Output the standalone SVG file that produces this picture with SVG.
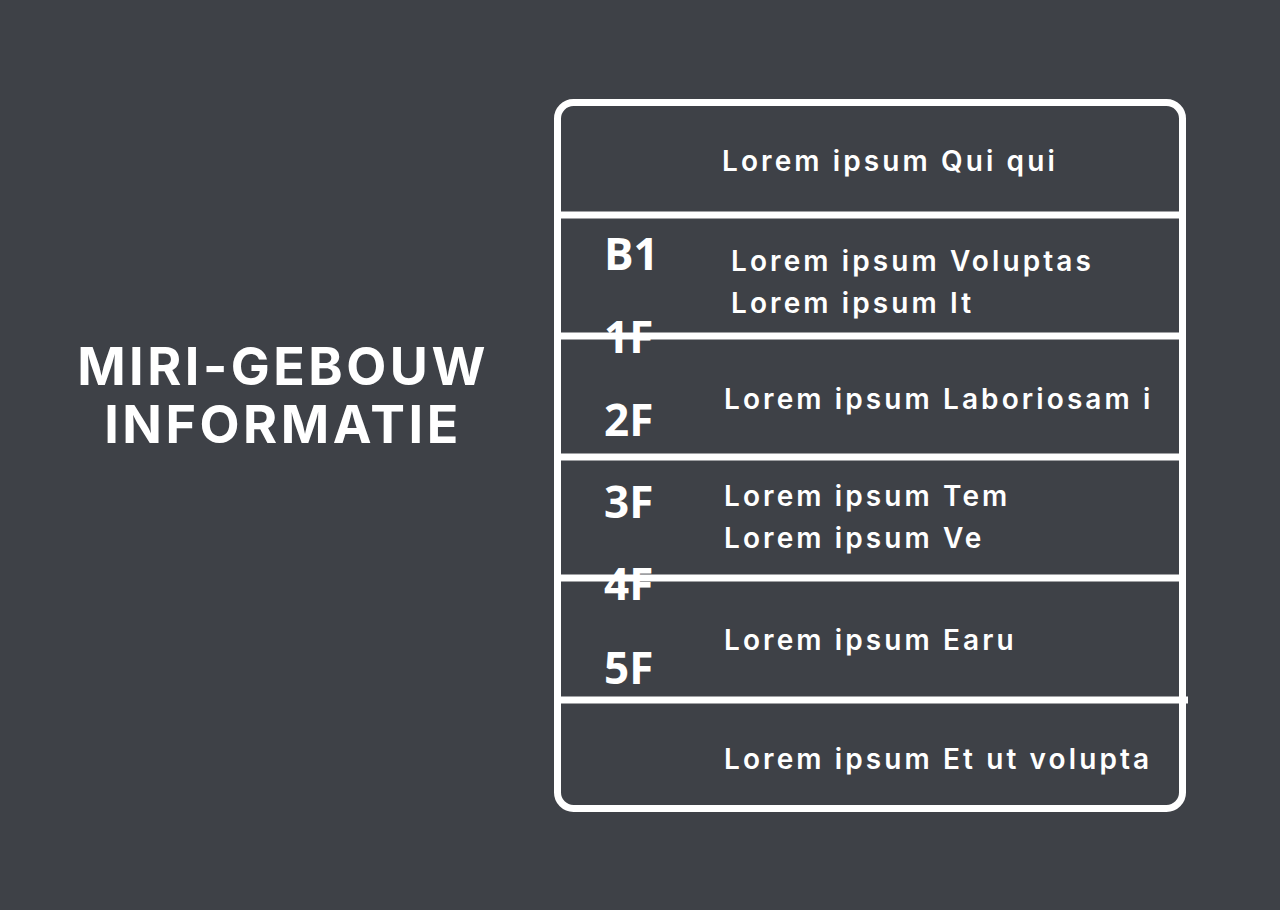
<svg xmlns="http://www.w3.org/2000/svg" width="1280" height="910" viewBox="0 0 1280 910">
<style>
.t{font-family:Inter,"Open Sans",sans-serif;font-weight:600;fill:#fff;font-size:28px;letter-spacing:3.1px}
.f{font-family:"Open Sans",Inter,sans-serif;font-weight:700;fill:#fff;font-size:44px}
.h{font-family:Inter,"Open Sans",sans-serif;font-weight:700;fill:#fff;font-size:52px;letter-spacing:3.5px}
.l{stroke:#fff;stroke-width:7;fill:none}
</style>
<rect width="1280" height="910" fill="#3e4147"/>
<g id="title"><text class="h" x="283" y="385" text-anchor="middle">MIRI-GEBOUW</text><text class="h" x="283" y="443" text-anchor="middle">INFORMATIE</text></g>
<g id="connectors">
<rect class="l" x="557.5" y="102.5" width="625" height="706" rx="16"/>
<line class="l" x1="557" y1="215" x2="1183" y2="215"/>
<line class="l" x1="557" y1="336" x2="1183" y2="336"/>
<line class="l" x1="557" y1="457" x2="1183" y2="457"/>
<line class="l" x1="557" y1="578" x2="1183" y2="578"/>
<line class="l" x1="557" y1="700" x2="1188" y2="700"/>
</g>
<g id="row0"><text class="t" x="722" y="171">Lorem ipsum Qui qui</text></g>
<g id="row1"><text class="f" x="604" y="270">B1</text><text class="t" x="731" y="271">Lorem ipsum Voluptas</text><text class="t" x="731" y="313">Lorem ipsum It</text></g>
<g id="row2"><text class="f" x="604" y="353">1F</text><text class="f" x="604" y="436">2F</text><text class="t" x="724" y="409">Lorem ipsum Laboriosam i</text></g>
<g id="row3"><text class="f" x="604" y="518">3F</text><text class="t" x="724" y="506">Lorem ipsum Tem</text><text class="t" x="724" y="548">Lorem ipsum Ve</text></g>
<g id="row4"><text class="f" x="604" y="600">4F</text><text class="f" x="604" y="684">5F</text><text class="t" x="724" y="650">Lorem ipsum Earu</text></g>
<g id="row5"><text class="t" x="724" y="769">Lorem ipsum Et ut volupta</text></g>
</svg>
